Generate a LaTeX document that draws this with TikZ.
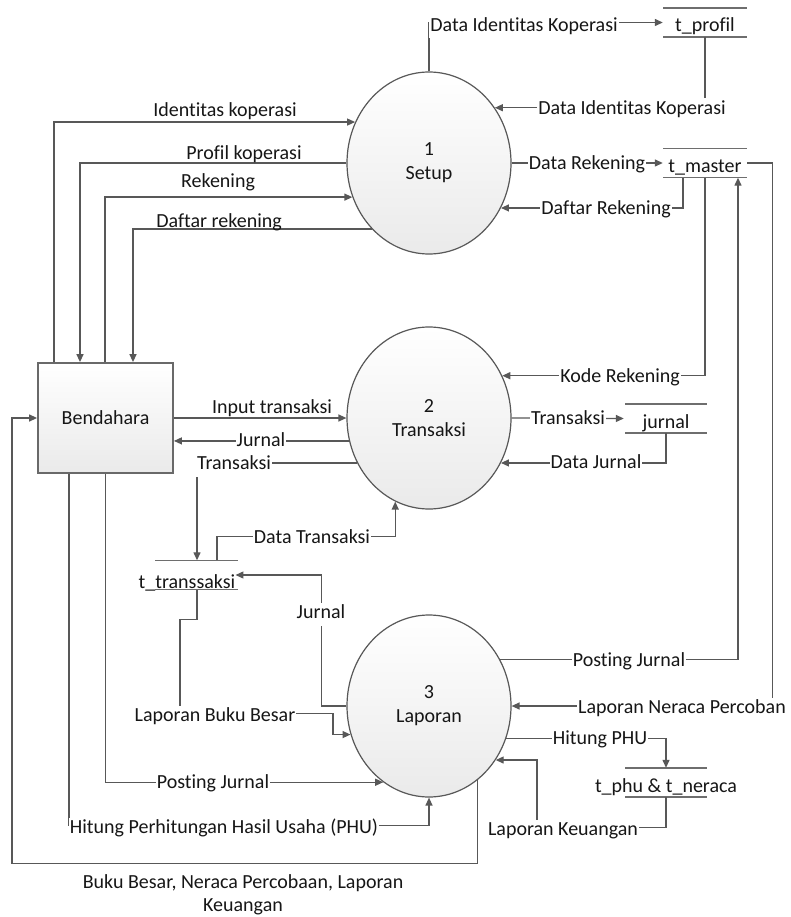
\documentclass[tikz,border=0pt]{standalone}
\usepackage{fontspec}
\setmainfont{Carlito}[Ligatures=NoCommon]
\usetikzlibrary{arrows.meta,calc,shapes.geometric}
\definecolor{linec}{RGB}{88,88,88}
\definecolor{storec}{RGB}{110,110,110}
\definecolor{txtc}{RGB}{22,22,22}
\definecolor{boxline}{RGB}{105,105,105}
\definecolor{shadeb}{RGB}{234,234,234}

\begin{document}
\begin{tikzpicture}[x=1pt,y=-1pt,
  font=\fontsize{20}{24}\selectfont, text=txtc,
  flow/.style={draw=linec, line width=1.3pt, -{Triangle[length=8pt,width=7pt]}},
  plain/.style={draw=storec, line width=1.4pt},
  proc/.style={ellipse, draw=linec, line width=1.2pt, top color=white, bottom color=shadeb,
               minimum width=164pt, minimum height=182pt, inner sep=0pt, align=center},
  ext/.style={rectangle, draw=boxline, line width=1.8pt, top color=white, bottom color=shadeb,
              minimum width=135pt, minimum height=110pt},
  store/.style={inner sep=0pt, minimum width=84pt, minimum height=29pt, text height=19pt, text depth=0pt},
  lab/.style={fill=white, inner xsep=1pt, inner ysep=3pt, text height=13pt, text depth=4pt},
  freelab/.style={inner sep=0pt, anchor=base},
]
\useasboundingbox (0,0) rectangle (791,917);

% processes, external entity, data stores
\node[proc] (c1) at (429,163) {1\\Setup};
\node[proc] (c2) at (429,418) {2\\Transaksi};
\node[proc] (c3) at (429,706) {3\\Laporan};
\node[ext] (bend) at (105.5,418) {Bendahara};
\node[store] (tpf) at (705,22.5) {t\_profil};
\node[store] (tm) at (705,163) {t\_master};
\node[store] (jr) at (666,418.5) {jurnal};
\node[store, text height=27pt] (ts) at (187,575) {t\_transsaksi};
\node[store] (tph) at (666,782.5) {t\_phu \& t\_neraca};

% open-ended store outlines
\foreach \s/\l/\r in {tpf/-42/42, tm/-42/42, jr/-41/41, ts/-32/51, tph/-41/41} {
  \draw[plain] ([xshift=\l pt, yshift=14.5pt]\s.center) -- ([xshift=\r pt, yshift=14.5pt]\s.center)
               ([xshift=\l pt, yshift=-14.5pt]\s.center) -- ([xshift=\r pt, yshift=-14.5pt]\s.center);
}

% flows of process 1
\draw[flow] ([xshift=-51.5pt]bend.north) |- (c1.151);
\draw[flow] (c1.west) -| ([xshift=-25.5pt]bend.north);
\draw[flow] ([xshift=-0.5pt]bend.north) |- (c1.204);
\draw[flow] (c1.229) -| ([xshift=27.5pt]bend.north);
\draw[flow] (c1.north) |- (tpf.west);
\draw[flow] (tpf.south) |- (c1.40);
\draw[flow] (c1.east) -- (tm.west);
\draw[flow] ([xshift=-22pt]tm.south) |- (c1.328);

% flows of process 2
\draw[flow] (tm.south) |- (c2.30);
\draw[flow] (c2.east) -- (jr.west);
\draw[flow] (jr.south) |- (c2.328);
\draw[flow] (bend.east) -- (c2.west);
\draw[flow] (c2.196) -- (c2.196 -| bend.east);
\draw[flow] (c2.212) -| ([xshift=10pt]ts.north);
\draw[flow] ([xshift=30pt]ts.north) -- ++(0,-24) -| (c2.248);

% flows of process 3
\draw[flow] (c3.west) -- ++(-25,0) |- (ts.east);
\draw[flow] ([xshift=10pt]ts.south) |- ++(-17,30) |- ++(153,94) |- (c3.200);
\draw[flow] (bend.south) |- (c3.239);
\draw[flow] ([xshift=-36.5pt]bend.south) |- ([yshift=-28pt]c3.south) -- (c3.south);
\draw[flow] (c3.303) -- ++(0,83) -| ([xshift=-25pt]bend.west) -- (bend.west);
\draw[flow] (c3.33) -| ([xshift=33pt]tm.south);
\draw[flow] (tm.east) -- ++(25,0) |- (c3.east);
\draw[flow] (c3.337) -| (tph.north);
\draw[flow] (tph.south) |- ++(-129,30) |- (c3.321);

% labels sitting on their flows
\node[lab] (l_dik1) at (524,27) {Data Identitas Koperasi};
\node[lab] (l_dik2) at (632,110) {Data Identitas Koperasi};
\node[lab] (l_drk) at (587,165) {Data Rekening};
\node[lab] (l_dfr) at (606,210) {Daftar Rekening};
\node[lab] (l_kdr) at (620,378) {Kode Rekening};
\node[lab] (l_trj) at (568,420) {Transaksi};
\node[lab] (l_dj) at (596,464) {Data Jurnal};
\node[lab] (l_jb) at (261,442) {Jurnal};
\node[lab] (l_trs) at (234,465) {Transaksi};
\node[lab] (l_dts) at (312,539) {Data Transaksi};
\node[lab] (l_jts) at (321,614) {Jurnal};
\node[lab] (l_lbb) at (215,717) {Laporan Buku Besar};
\node[lab] (l_pjl) at (213,784) {Posting Jurnal};
\node[lab] (l_hphu) at (224,829) {Hitung Perhitungan Hasil Usaha (PHU)};
\node[lab] (l_pjr) at (629,662) {Posting Jurnal};
\node[lab] (l_lnp) at (682,709) {Laporan Neraca Percoban};
\node[lab] (l_hp) at (600,740) {Hitung PHU};
\node[lab] (l_lk) at (563,831) {Laporan Keuangan};

% labels placed above their flows
\node[freelab] (l_ik) at (225,117) {Identitas koperasi};
\node[freelab] (l_pk) at (244,160) {Profil koperasi};
\node[freelab] (l_rk) at (218,188) {Rekening};
\node[freelab] (l_dr) at (219,228) {Daftar rekening};
\node[freelab] (l_it) at (272,413) {Input transaksi};
\node[freelab] (l_bb1) at (243,888) {Buku Besar, Neraca Percobaan, Laporan};
\node[freelab] (l_bb2) at (243,911) {Keuangan};
\end{tikzpicture}
\end{document}
